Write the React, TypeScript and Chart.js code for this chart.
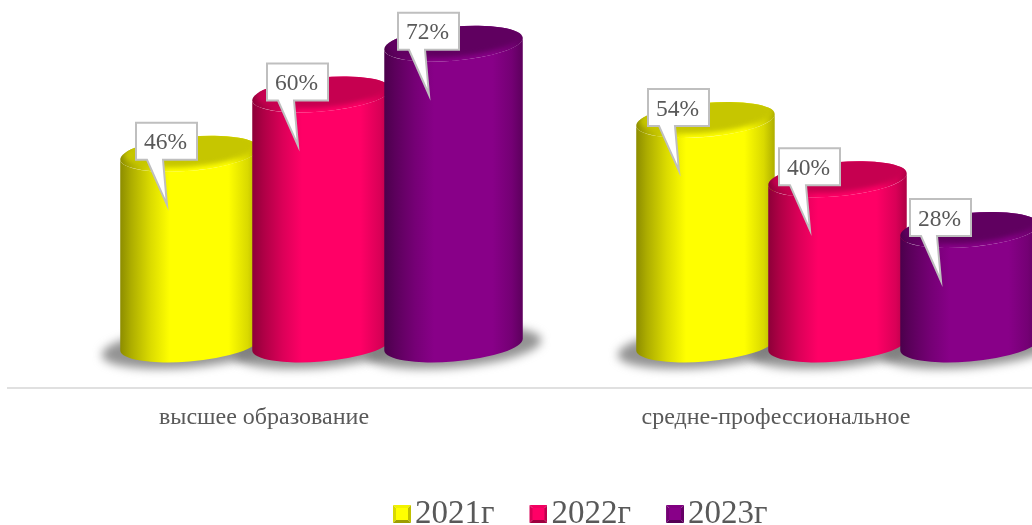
import React, { useEffect, useRef } from "react";
import { Chart, registerables } from "chart.js";

Chart.register(...registerables);

const categories = ["высшее образование", "средне-профессиональное"];
const years = ["2021г", "2022г", "2023г"];
const values2021 = [46, 54];
const values2022 = [60, 40];
const values2023 = [72, 28];
const seriesValues = [values2021, values2022, values2023];
const bodyColors = ["#ffff00", "#ff0066", "#880088"];
const capColors = ["#c6c600", "#c60050", "#600060"];

const SERIF = '"Liberation Serif", "Times New Roman", serif';
const TEXT = "#595959";
const AXIS = "#e0e0e0";
const LEGEND_FONT = 33;
const LEGEND_GAP = 39.5;
const DEPTH_SCALE = 1.0078;
const DEPTH_SHIFT = 55.44;
const TOP_SHIFT = 39;
const BASE_SHIFT = 43;
const RY = 17;
const TILT = (-5 * Math.PI) / 180;

function shade(hex: string, f: number) {
  const n = parseInt(hex.slice(1), 16);
  const c = [(n >> 16) & 255, (n >> 8) & 255, n & 255].map((v) => Math.round(v * f));
  return `rgb(${c[0]},${c[1]},${c[2]})`;
}

function legendSwatch(base: string) {
  const cv = document.createElement("canvas");
  cv.width = 26;
  cv.height = 18;
  const c = cv.getContext("2d")!;
  const x = 8, s = 18, b = 3;
  const tri = (pts: number[][], col: string) => {
    c.beginPath();
    pts.forEach((p, i) => (i ? c.lineTo(p[0], p[1]) : c.moveTo(p[0], p[1])));
    c.closePath();
    c.fillStyle = col;
    c.fill();
  };
  tri([[x, 0], [x + s, 0], [x + s - b, b], [x + b, b]], shade(base, 0.95));
  tri([[x, 0], [x + b, b], [x + b, s - b], [x, s]], shade(base, 0.85));
  tri([[x + s, 0], [x + s, s], [x + s - b, s - b], [x + s - b, b]], shade(base, 0.75));
  tri([[x, s], [x + s, s], [x + s - b, s - b], [x + b, s - b]], shade(base, 0.62));
  c.fillStyle = base;
  c.fillRect(x + b, b, s - 2 * b, s - 2 * b);
  return cv;
}

function tangent(a: number, b: number, th: number) {
  return Math.atan((-b / a) * Math.tan(th));
}

const cylinderPlugin = {
  id: "cylinders",
  afterLayout(chart: any) {
    const l = chart.legend;
    if (l) {
      l.left += 125;
      l.top = 514 - LEGEND_FONT / 2 - LEGEND_GAP;
    }
  },
  beforeDatasetsDraw(chart: any) {
    const ctx = chart.ctx;
    ctx.save();
    ctx.filter = "blur(5px)";
    ctx.fillStyle = "rgba(120,120,120,0.8)";
    chart.data.datasets.forEach((_: any, i: number) => {
      chart.getDatasetMeta(i).data.forEach((el: any) => {
        const cx = el.x * DEPTH_SCALE + DEPTH_SHIFT;
        ctx.beginPath();
        ctx.ellipse(cx, el.base - BASE_SHIFT + 3, 88, 20, TILT, 0, Math.PI * 2);
        ctx.fill();
      });
    });
    ctx.restore();
    chart.data.datasets.forEach((_: any, i: number) => {
      const base = bodyColors[i];
      const cap = capColors[i];
      chart.getDatasetMeta(i).data.forEach((el: any) => {
        const cx = el.x * DEPTH_SCALE + DEPTH_SHIFT;
        const a = el.width / 2;
        const topY = el.y - TOP_SHIFT;
        const botY = el.base - BASE_SHIFT;
        const t0 = tangent(a, RY, TILT);
        const g = ctx.createLinearGradient(cx - a, 0, cx + a, 0);
        [[0, 0.55], [0.08, 0.68], [0.22, 0.86], [0.36, 1], [0.78, 1], [0.92, 0.85], [1, 0.68]].forEach(([s, f]) =>
          g.addColorStop(s, shade(base, f))
        );
        ctx.save();
        ctx.beginPath();
        ctx.ellipse(cx, botY, a, RY, TILT, t0, t0 + Math.PI, false);
        ctx.ellipse(cx, topY, a, RY, TILT, t0 + Math.PI, t0, true);
        ctx.closePath();
        ctx.fillStyle = g;
        ctx.fill();
        ctx.beginPath();
        ctx.ellipse(cx, topY, a, RY, TILT, 0, Math.PI * 2);
        ctx.fill();
        ctx.clip();
        ctx.filter = "blur(2.5px)";
        ctx.fillStyle = cap;
        ctx.beginPath();
        ctx.ellipse(cx + 1, topY - 4, a - 3, RY, TILT, 0, Math.PI * 2);
        ctx.fill();
        ctx.restore();
      });
    });
  },
  beforeDatasetDraw() {
    return false;
  },
  afterDatasetsDraw(chart: any) {
    const ctx = chart.ctx;
    chart.data.datasets.forEach((ds: any, i: number) => {
      chart.getDatasetMeta(i).data.forEach((el: any, j: number) => {
        const w = 61, h = 37;
        const left = el.x + 33.5 - w / 2;
        const top = el.y - 70;
        ctx.save();
        ctx.beginPath();
        ctx.moveTo(left, top);
        ctx.lineTo(left + w, top);
        ctx.lineTo(left + w, top + h);
        ctx.lineTo(left + 27, top + h);
        ctx.lineTo(left + 31, top + h + 45);
        ctx.lineTo(left + 11, top + h);
        ctx.lineTo(left, top + h);
        ctx.closePath();
        ctx.fillStyle = "#ffffff";
        ctx.fill();
        ctx.strokeStyle = "#bfbfbf";
        ctx.lineWidth = 2;
        ctx.lineJoin = "miter";
        ctx.stroke();
        ctx.fillStyle = TEXT;
        ctx.font = `23.5px ${SERIF}`;
        ctx.textAlign = "center";
        ctx.textBaseline = "middle";
        ctx.fillText(`${ds.data[j]}%`, left + w / 2 - 1, top + h / 2 + 2);
        ctx.restore();
      });
    });
  },
};

export default function App() {
  const ref = useRef<HTMLCanvasElement>(null);
  useEffect(() => {
    document.body.style.margin = "0";
    document.body.style.overflow = "hidden";
    const swatches = bodyColors.map(legendSwatch);
    const chart = new Chart(ref.current!, {
      type: "bar",
      data: {
        labels: categories,
        datasets: years.map((y, i) => ({
          label: y,
          data: seriesValues[i],
          backgroundColor: bodyColors[i],
          categoryPercentage: 393 / 512,
          barPercentage: 1.061,
        })),
      },
      options: {
        animation: false,
        responsive: false,
        layout: { padding: { left: 8, right: 0, top: 0, bottom: 0 } },
        plugins: {
          tooltip: { enabled: false },
          legend: {
            position: "bottom",
            labels: {
              usePointStyle: true,
              pointStyleWidth: 1,
              padding: LEGEND_GAP,
              color: TEXT,
              font: { family: SERIF, size: LEGEND_FONT },
              generateLabels: () =>
                years.map((y, i) => ({
                  text: y,
                  datasetIndex: i,
                  pointStyle: swatches[i],
                  fontColor: TEXT,
                  lineWidth: 0,
                })),
            },
          },
        },
        scales: {
          x: {
            grid: { display: false, tickLength: 0 },
            border: { color: AXIS, width: 2 },
            ticks: {
              color: TEXT,
              padding: 16,
              font: { family: SERIF, size: 24 },
              maxRotation: 0,
            },
            afterFit: (s: any) => {
              s.height = 55;
            },
          },
          y: { display: false, min: 0, max: 91.55 },
        },
      },
      plugins: [cylinderPlugin],
    } as any);
    return () => chart.destroy();
  }, []);
  return <canvas ref={ref} width={1032} height={525} style={{ display: "block" }} />;
}
